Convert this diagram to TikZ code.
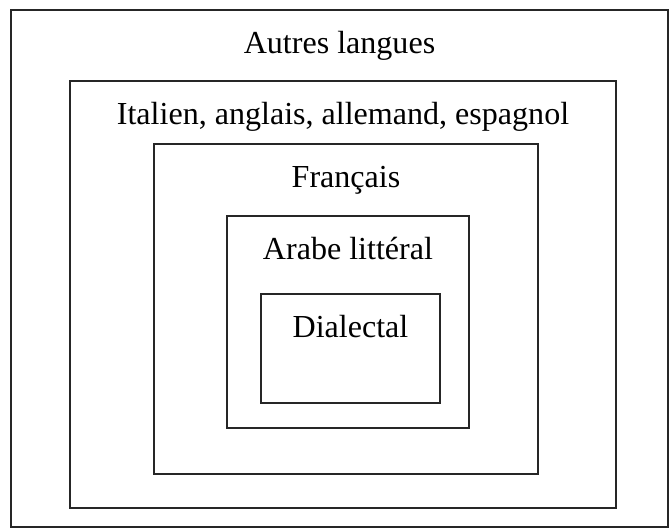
\documentclass[tikz,border=0pt]{standalone}
\usepackage{fontspec}
\setmainfont{Liberation Serif}
\usetikzlibrary{positioning}

\begin{document}
\begin{tikzpicture}[
    x=0.025cm, y=-0.025cm,
    box/.style={rectangle, draw=black!85, line width=1.1pt, inner sep=0pt},
    lbl/.style={anchor=base, inner sep=0pt, font=\fontsize{22.8}{27}\selectfont}
]
\useasboundingbox (0,0) rectangle (672,531);

% Nested boxes, from outside in
\node[box, minimum width=16.425cm, minimum height=12.925cm] (autres) at (339.5,268.5) {};
\node[box, minimum width=13.65cm, minimum height=10.675cm] (italien) at (343,294.5) {};
\node[box, minimum width=9.6cm, minimum height=8.25cm] (francais) at (346,309) {};
\node[box, minimum width=6.05cm, minimum height=5.3cm] (arabe) at (348,322) {};
\node[box, minimum width=4.475cm, minimum height=2.725cm] (dialectal) at (350.5,348.5) {};

% Labels near the top of each box
\node[lbl] (t-autres) at ([yshift=-1.1cm]autres.north) {Autres langues};
\node[lbl] (t-italien) at ([yshift=-1.1cm]italien.north) {Italien, anglais, allemand, espagnol};
\node[lbl] (t-francais) at ([yshift=-1.1cm]francais.north) {Français};
\node[lbl] (t-arabe) at ([yshift=-1.1cm]arabe.north) {Arabe littéral};
\node[lbl] (t-dialectal) at ([yshift=-1.1cm]dialectal.north) {Dialectal};

\end{tikzpicture}
\end{document}
